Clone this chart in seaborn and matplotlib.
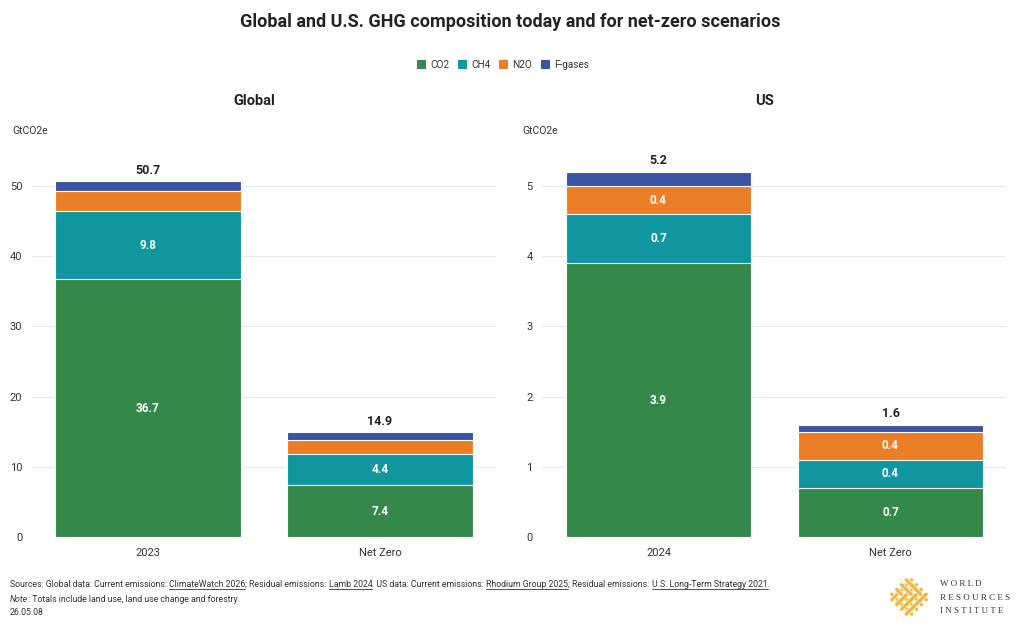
import numpy as np
import pandas as pd
import matplotlib.pyplot as plt
import matplotlib.patheffects as pe
import seaborn as sns
from matplotlib.patches import Patch
from matplotlib.lines import Line2D

sns.set_theme(style="white")
plt.rcParams['font.family'] = ['Roboto', 'DejaVu Sans']

# Gas categories and colours
gases = ['CO2', 'CH4', 'N2O', 'F-gases']
gas_colors = ['#33884A', '#0F969E', '#EA7F27', '#3B54A3']

# Global (GtCO2e)
global_periods = ['2023', 'Net Zero']
global_co2 = [36.7, 7.4]
global_ch4 = [9.8, 4.4]
global_n2o = [2.8, 2.0]
global_fgas = [1.4, 1.1]
global_total = [50.7, 14.9]

# US (GtCO2e)
us_periods = ['2024', 'Net Zero']
us_co2 = [3.9, 0.7]
us_ch4 = [0.7, 0.4]
us_n2o = [0.4, 0.4]
us_fgas = [0.2, 0.1]
us_total = [5.2, 1.6]

panels = [
    ('Global', global_periods, [global_co2, global_ch4, global_n2o, global_fgas], global_total, 55, [0, 10, 20, 30, 40, 50]),
    ('US', us_periods, [us_co2, us_ch4, us_n2o, us_fgas], us_total, 5.5, [0, 1, 2, 3, 4, 5]),
]

fig = plt.figure(figsize=(10.2, 6.33), dpi=100)
W, H = 1020, 633
ax_rects = [(32, 151, 464, 386), (542.5, 151, 464, 386)]

for (name, periods, layers, totals, ymax, yticks), (x0, y0, w, h) in zip(panels, ax_rects):
    ax = fig.add_axes([x0 / W, 1 - (y0 + h) / H, w / W, h / H])
    df = pd.DataFrame({'period': np.repeat(periods, len(gases)),
                       'gas': gases * len(periods),
                       'value': np.array(layers).T.ravel()})
    df['cum'] = df.groupby('period', sort=False)['value'].cumsum()
    # draw top layer first, then the lower cumulative layers over it
    for i in reversed(range(len(gases))):
        sub = df[df['gas'] == gases[i]]
        sns.barplot(data=sub, x='period', y='cum', color=gas_colors[i], saturation=1,
                    width=0.8, edgecolor='white', linewidth=0.8, ax=ax, zorder=2)
    # segment labels
    for j, p in enumerate(periods):
        sub = df[df['period'] == p]
        for _, r in sub.iterrows():
            if r['value'] / ymax > 0.06:
                ax.text(j, r['cum'] - r['value'] / 2, f"{r['value']:.1f}", ha='center', va='center',
                        color='white', fontsize=8.5, fontweight='bold', zorder=5)
        ax.text(j, totals[j] + ymax * 0.012, f"{totals[j]:.1f}", ha='center', va='bottom',
                color='#222222', fontsize=9, fontweight='bold')
    ax.set_xlim(-0.5, 1.5)
    ax.set_ylim(0, ymax)
    ax.set_yticks(yticks)
    ax.set_yticklabels([str(t) for t in yticks])
    ax.yaxis.grid(True, color='#e8e8e8', linewidth=0.8, zorder=0)
    ax.set_axisbelow(True)
    for s in ax.spines.values():
        s.set_visible(False)
    ax.tick_params(axis='both', length=0, labelsize=8, labelcolor='#333333', pad=8)
    ax.tick_params(axis='y', pad=7)
    ax.set_xlabel('')
    ax.set_ylabel('')
    fig.text((x0 + w / 2 - 10) / W, 1 - 101 / H, name, ha='center', va='center',
             fontsize=10.5, fontweight='bold', color='#222222')
    fig.text((x0 - 20) / W, 1 - 131 / H, 'GtCO2e', ha='left', va='center', fontsize=7.5, color='#333333')

fig.text(0.5, 1 - 22 / H, 'Global and U.S. GHG composition today and for net-zero scenarios',
         ha='center', va='center', fontsize=13, fontweight='bold', color='#222222')

handles = [Patch(facecolor=c, edgecolor='none', label=g) for g, c in zip(gases, gas_colors)]
fig.legend(handles=handles, loc='center', bbox_to_anchor=(503 / W, 1 - 65 / H), ncol=4, frameon=False,
           fontsize=7.2, handlelength=0.9, handleheight=0.9, handletextpad=0.4, columnspacing=0.9,
           labelcolor='#333333')

# footer with underlined links
renderer = fig.canvas.get_renderer()
pieces = [("Sources: Global data: Current emissions: ", False), ("ClimateWatch 2026", True),
          ("; Residual emissions: ", False), ("Lamb 2024", True), (". US data: Current emissions: ", False),
          ("Rhodium Group 2025", True), ("; Residual emissions: ", False),
          ("U.S. Long-Term Strategy 2021", True), (".", False)]
fsz = 6.3
xpix = 10
ypix = H - 587
for txt, ul in pieces:
    t = fig.text(xpix / W, ypix / H, txt, ha='left', va='baseline', fontsize=fsz, color='#333333')
    bb = t.get_window_extent(renderer)
    if ul:
        fig.add_artist(Line2D([bb.x0 / W, bb.x1 / W], [(ypix - 1.5) / H] * 2, color='#333333', linewidth=0.6))
    xpix = bb.x1
t = fig.text(10 / W, (H - 602) / H, "Note", ha='left', va='baseline', fontsize=fsz, color='#333333', style='italic')
bb = t.get_window_extent(renderer)
fig.text(bb.x1 / W, (H - 602) / H, ": Totals include land use, land use change and forestry.", ha='left',
         va='baseline', fontsize=fsz, color='#333333')
fig.text(10 / W, (H - 615) / H, "26.05.08", ha='left', va='baseline', fontsize=fsz, color='#333333')

# logo: woven gold diamond
lax = fig.add_axes([887 / W, 1 - 619 / H, 44 / W, 44 / H])
lax.set_xlim(-1.1, 1.1)
lax.set_ylim(-1.1, 1.1)
lax.axis('off')
gold = '#F4B63A'
ts = np.linspace(-1.2, 1.2, 600)
outline = [pe.Stroke(linewidth=3.6, foreground='white'), pe.Normal()]
k = 0
for c in [-0.72, -0.24, 0.24, 0.72]:
    for xs, ys in [(ts, c - ts), (ts, ts - c)]:
        m = np.abs(xs) + np.abs(ys) <= 1.0
        lax.plot(xs[m], ys[m], color=gold, linewidth=2.4, solid_capstyle='round', path_effects=outline, zorder=k)
        k += 1
for ty, word in zip([584, 598, 611], ['W O R L D', 'R E S O U R C E S', 'I N S T I T U T E']):
    fig.text(940 / W, 1 - ty / H, word, ha='left', va='center', fontsize=6.5, color='#333333',
             family='Liberation Serif')

fig.savefig('out.png', dpi=100)
